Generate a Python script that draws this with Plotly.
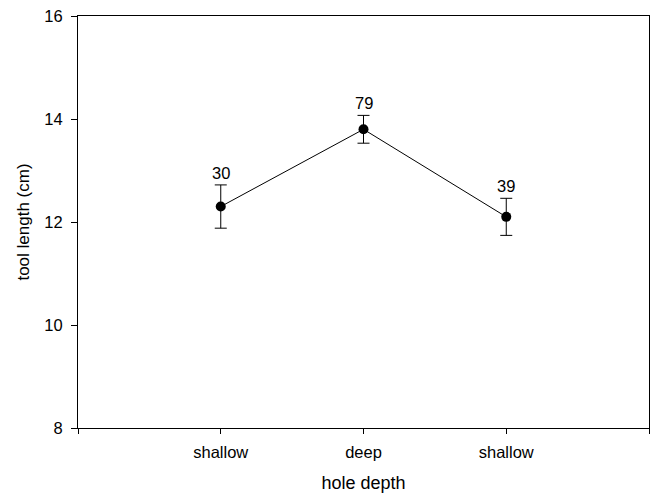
import plotly.graph_objects as go

# Tool length by hole depth: mean, error and sample size per group
positions = [1, 2, 3]
depth_labels = ["shallow", "deep", "shallow"]
mean_length = [12.3, 13.8, 12.1]
error_length = [0.42, 0.27, 0.36]
sample_n = [30, 79, 39]

y_ticks = [8, 10, 12, 14, 16]
x_ticks = [0, 1, 2, 3, 4]
x_ticktext = [""] + depth_labels + [""]

FONT = "Liberation Sans, Arial, Helvetica, sans-serif"

fig = go.Figure()
fig.add_trace(go.Scatter(
    x=positions,
    y=mean_length,
    mode="lines+markers",
    line=dict(color="black", width=1),
    marker=dict(color="black", size=10),
    error_y=dict(type="data", array=error_length, visible=True,
                 color="black", thickness=1, width=6),
    showlegend=False,
    hoverinfo="skip",
))

# sample size above each upper error cap
for x, m, e, n in zip(positions, mean_length, error_length, sample_n):
    fig.add_annotation(x=x, y=m + e, text=str(n), showarrow=False,
                       yanchor="bottom", yshift=1,
                       font=dict(family=FONT, size=16.5, color="black"))

axis_common = dict(
    showline=True, linecolor="black", linewidth=1, mirror=True,
    ticks="outside", tickcolor="black", tickwidth=1,
    showgrid=False, zeroline=False,
    tickfont=dict(family=FONT, size=16.5, color="black"),
)

fig.update_xaxes(
    range=[0, 4], tickvals=x_ticks, ticktext=x_ticktext, ticklen=5,
    ticklabelstandoff=4,
    title=dict(text="hole depth", font=dict(family=FONT, size=18, color="black"),
               standoff=16),
    **axis_common,
)
fig.update_yaxes(
    range=[8, 16], tickvals=y_ticks, ticklen=6,
    ticklabelstandoff=5,
    title=dict(text="tool length (cm)", font=dict(family=FONT, size=17, color="black"),
               standoff=10),
    **axis_common,
)

fig.update_layout(
    width=650, height=496,
    margin=dict(l=78, r=1, t=16, b=68),
    paper_bgcolor="white", plot_bgcolor="white",
)

fig.write_html("out.html")
